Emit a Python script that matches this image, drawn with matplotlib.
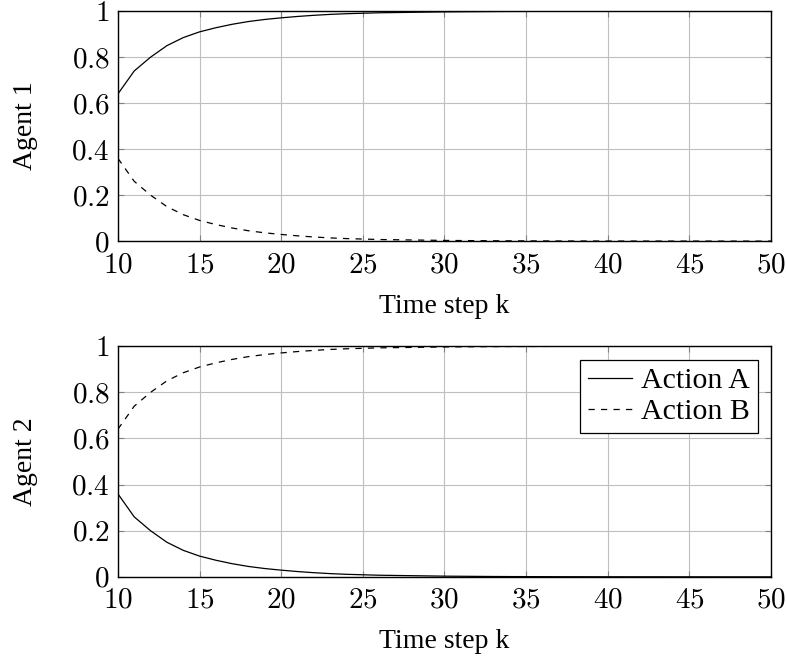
import matplotlib
matplotlib.use("Agg")
import matplotlib.pyplot as plt
from matplotlib.ticker import FuncFormatter

plt.rcParams['font.family'] = 'Liberation Serif'
plt.rcParams['mathtext.fontset'] = 'cm'

# time steps and action probabilities
k = list(range(10, 51))
agent1_a = [0.64, 0.74, 0.80, 0.85, 0.885, 0.91, 0.928, 0.943, 0.955, 0.964,
            0.971, 0.977, 0.982, 0.986, 0.989, 0.991, 0.993, 0.994, 0.995, 0.996,
            0.997, 0.9975, 0.998, 0.9985, 0.9988, 0.999, 0.9992, 0.9994, 0.9995, 0.9996,
            0.9997, 0.9997, 0.9998, 0.9998, 0.9999, 0.9999, 0.9999, 1.0, 1.0, 1.0, 1.0]
agent1_b = [0.36, 0.26, 0.20, 0.15, 0.115, 0.09, 0.072, 0.057, 0.045, 0.036,
            0.029, 0.023, 0.018, 0.014, 0.011, 0.009, 0.007, 0.006, 0.005, 0.004,
            0.003, 0.0025, 0.002, 0.0015, 0.0012, 0.001, 0.0008, 0.0006, 0.0005, 0.0004,
            0.0003, 0.0003, 0.0002, 0.0002, 0.0001, 0.0001, 0.0001, 0.0, 0.0, 0.0, 0.0]
agent2_a = list(agent1_b)
agent2_b = list(agent1_a)

xticks = [10, 15, 20, 25, 30, 35, 40, 45, 50]
yticks = [0, 0.2, 0.4, 0.6, 0.8, 1]

fig = plt.figure(figsize=(7.86, 6.57), dpi=100)
ax1 = fig.add_axes([0.150, 0.633, 0.831, 0.350])
ax2 = fig.add_axes([0.150, 0.122, 0.831, 0.351])

fmt = FuncFormatter(lambda v, p: "$%g$" % v)

def style(ax, ylabel):
    ax.set_xlim(10, 50)
    ax.set_ylim(0, 1)
    ax.set_xticks(xticks)
    ax.set_yticks(yticks)
    ax.xaxis.set_major_formatter(fmt)
    ax.yaxis.set_major_formatter(fmt)
    ax.grid(True, color='#bfbfbf', linewidth=0.8)
    ax.set_axisbelow(True)
    ax.tick_params(direction='in', top=True, right=True, length=4, width=0.8,
                   labelsize=21, color='#808080')
    ax.tick_params(axis='x', pad=8)
    ax.tick_params(axis='y', pad=6)
    for s in ax.spines.values():
        s.set_linewidth(1.0)
    ax.set_xlabel('Time step k', fontsize=20, labelpad=11)
    ax.set_ylabel(ylabel, fontsize=20, labelpad=24)

ax1.plot(k, agent1_a, color='black', linewidth=0.9)
ax1.plot(k, agent1_b, color='black', linewidth=0.9, linestyle=(0, (5, 5)))
style(ax1, 'Agent 1')

ax2.plot(k, agent2_a, color='black', linewidth=0.9, label='Action A')
ax2.plot(k, agent2_b, color='black', linewidth=0.9, linestyle=(0, (5, 5)), label='Action B')
style(ax2, 'Agent 2')
leg = ax2.legend(loc='upper right', fontsize=21.5, fancybox=False, framealpha=1,
                 edgecolor='black', handlelength=1.5, handletextpad=0.3,
                 borderpad=0.25, labelspacing=0.15, borderaxespad=0.45)
leg.get_frame().set_linewidth(0.9)

fig.savefig('out.png', dpi=100)
